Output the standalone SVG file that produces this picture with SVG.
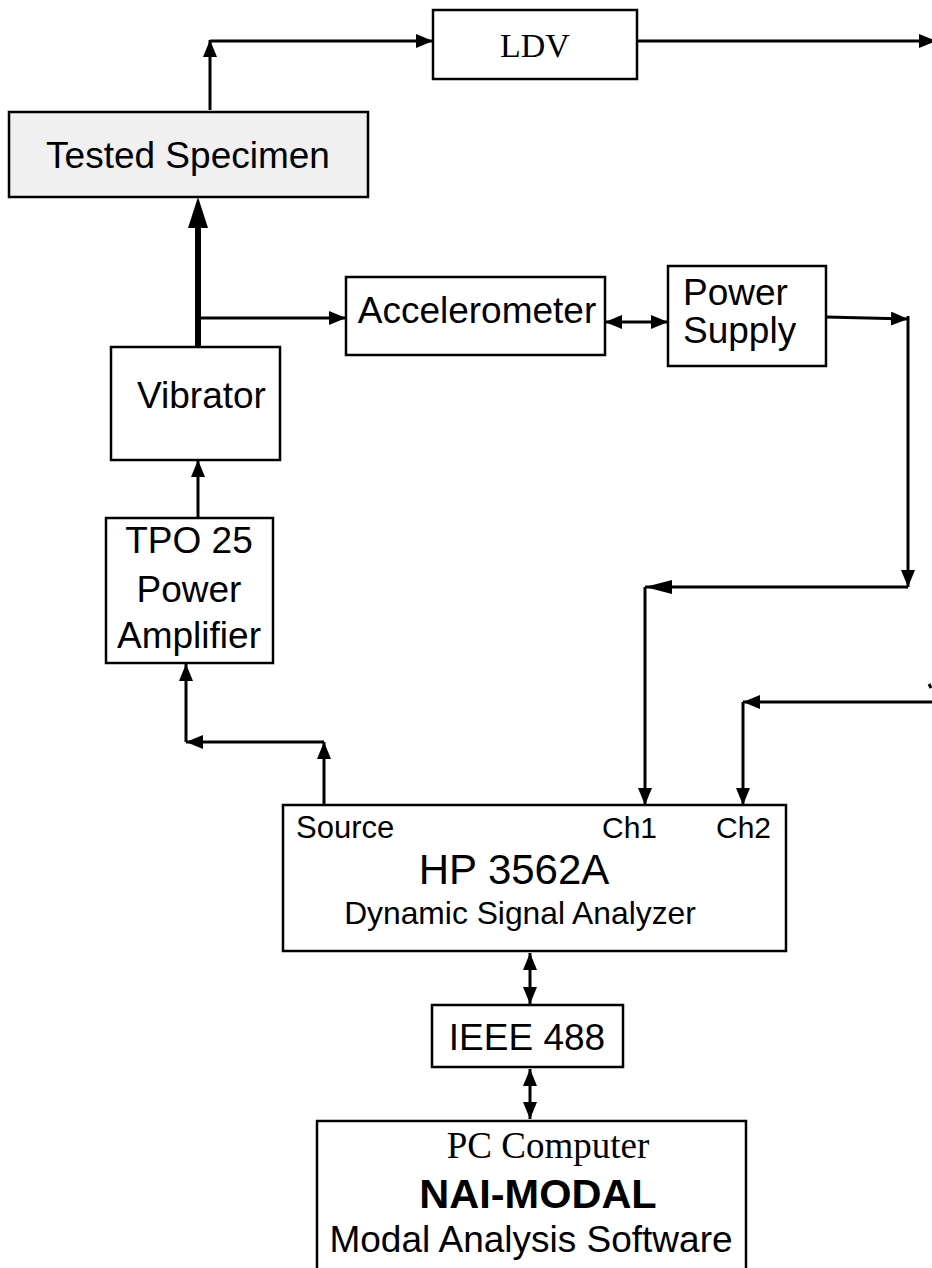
<svg xmlns="http://www.w3.org/2000/svg" width="932" height="1268" viewBox="0 0 932 1268">
<style>
.box{fill:#fff;stroke:#000;stroke-width:2.5}
.spec{fill:#f0f0f0;stroke:#000;stroke-width:2.5}
.ln{fill:none;stroke:#000;stroke-width:3}
.sans{font-family:"Liberation Sans",Arial,sans-serif;fill:#000}
.serif{font-family:"Liberation Serif","Times New Roman",serif;fill:#000}
</style>
<defs>
<marker id="ah" markerUnits="userSpaceOnUse" markerWidth="17" markerHeight="14" refX="17" refY="7" orient="auto-start-reverse" viewBox="0 0 17 14">
<path d="M0,0 L17,7 L0,14 z" fill="#000"/>
</marker>
<marker id="ahl" markerUnits="userSpaceOnUse" markerWidth="27" markerHeight="14" refX="27" refY="7" orient="auto" viewBox="0 0 27 14">
<path d="M0,0 L27,7 L0,14 z" fill="#000"/>
</marker>
</defs>
<g id="connectors">
<path class="ln" d="M210,110 V40" marker-end="url(#ah)"/>
<path class="ln" d="M210,41 H433" marker-end="url(#ah)"/>
<path class="ln" d="M637,41 H936" marker-end="url(#ah)"/>
<path fill="none" stroke="#000" stroke-width="6" d="M198,347 V220"/>
<polygon points="198,197 188,228 208,228" fill="#000"/>
<path class="ln" d="M200,318 H346" marker-end="url(#ah)"/>
<path class="ln" d="M605,322 H668" marker-start="url(#ah)" marker-end="url(#ah)"/>
<path class="ln" d="M826,317 L908,319" marker-end="url(#ah)"/>
<path class="ln" d="M908,316 V587" marker-end="url(#ah)"/>
<path class="ln" d="M908,587 H645" marker-end="url(#ahl)"/>
<path class="ln" d="M645,587 V805" marker-end="url(#ah)"/>
<path class="ln" d="M932,702 H743" marker-end="url(#ah)"/>
<path class="ln" d="M743,702 V805" marker-end="url(#ah)"/>
<path class="ln" d="M929,684 L931,688"/>
<path class="ln" d="M198,518 V460" marker-end="url(#ah)"/>
<path class="ln" d="M324,805 V742" marker-end="url(#ah)"/>
<path class="ln" d="M324,742 H186" marker-end="url(#ah)"/>
<path class="ln" d="M186,742 V664" marker-end="url(#ah)"/>
<path class="ln" d="M530,953 V1004" marker-start="url(#ah)" marker-end="url(#ah)"/>
<path class="ln" d="M530,1069 V1119" marker-start="url(#ah)" marker-end="url(#ah)"/>
</g>
<g id="ldv">
<rect class="box" x="433" y="10" width="204" height="69"/>
<text class="serif" x="535" y="57" font-size="34" text-anchor="middle">LDV</text>
</g>
<g id="specimen">
<rect class="spec" x="9" y="112" width="359" height="85"/>
<text class="sans" x="188" y="168" font-size="37" text-anchor="middle">Tested Specimen</text>
</g>
<g id="accelerometer">
<rect class="box" x="346" y="277" width="259" height="78"/>
<text class="sans" x="477" y="323" font-size="37" text-anchor="middle">Accelerometer</text>
</g>
<g id="powersupply">
<rect class="box" x="668" y="266" width="158" height="100"/>
<text class="sans" x="683" y="305" font-size="37">Power</text>
<text class="sans" x="683" y="343" font-size="37">Supply</text>
</g>
<g id="vibrator">
<rect class="box" x="111" y="347" width="169" height="113"/>
<text class="sans" x="137" y="408" font-size="37">Vibrator</text>
</g>
<g id="amplifier">
<rect class="box" x="106" y="518" width="167" height="145"/>
<text class="sans" x="189" y="553" font-size="37" text-anchor="middle">TPO 25</text>
<text class="sans" x="189" y="602" font-size="37" text-anchor="middle">Power</text>
<text class="sans" x="189" y="648" font-size="37" text-anchor="middle">Amplifier</text>
</g>
<g id="analyzer">
<rect class="box" x="283" y="805" width="503" height="146"/>
<text class="sans" x="296" y="838" font-size="31">Source</text>
<text class="sans" x="602" y="838" font-size="30">Ch1</text>
<text class="sans" x="716" y="838" font-size="30">Ch2</text>
<text class="sans" x="514" y="884" font-size="42" text-anchor="middle">HP 3562A</text>
<text class="sans" x="520" y="924" font-size="31.8" text-anchor="middle">Dynamic Signal Analyzer</text>
</g>
<g id="ieee">
<rect class="box" x="432" y="1005" width="191" height="62"/>
<text class="sans" x="527" y="1050" font-size="37" text-anchor="middle">IEEE 488</text>
</g>
<g id="pc">
<rect class="box" x="317" y="1121" width="429" height="160"/>
<text class="serif" x="548" y="1158" font-size="37" text-anchor="middle">PC Computer</text>
<text class="sans" x="538" y="1208" font-size="41.5" font-weight="bold" text-anchor="middle">NAI-MODAL</text>
<text class="sans" x="531" y="1252" font-size="37" text-anchor="middle">Modal Analysis Software</text>
</g>
</svg>
